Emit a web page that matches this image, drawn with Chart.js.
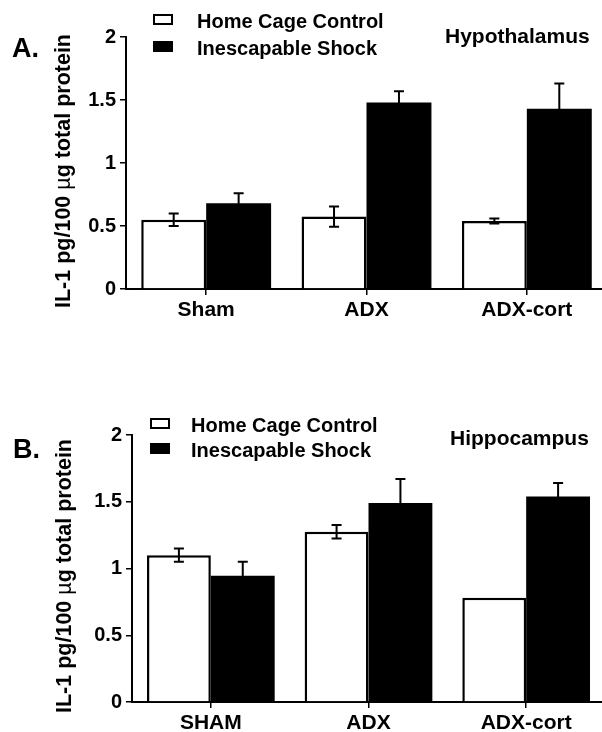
<!DOCTYPE html>
<html>
<head>
<meta charset="utf-8">
<script src="https://cdn.jsdelivr.net/npm/chart.js@4/dist/chart.umd.min.js"></script>
<style>
    html, body { margin: 0; padding: 0; background: #fff; overflow: hidden; width: 602px; height: 732px; }
    .panel { position: absolute; left: 0; }
    .panel canvas { display: block; }
    #panelA { top: 0; }
    #panelB { top: 380px; }
</style>
</head>
<body>
<div class="panel" id="panelA"><canvas id="chartA" width="607" height="330"></canvas></div>
<div class="panel" id="panelB"><canvas id="chartB" width="605" height="352"></canvas></div>
<script>
// Veriler
const groupsA = ['Sham', 'ADX', 'ADX-cort'];
const groupsB = ['SHAM', 'ADX', 'ADX-cort'];
const seriesNames = ['Home Cage Control', 'Inescapable Shock'];
const yTickLabels = ['0', '0.5', '1', '1.5', '2'];

// Hypothalamus
const hypoControl = [0.55, 0.575, 0.54];
const hypoControlSem = [0.05, 0.08, 0.02];
const hypoShock = [0.68, 1.48, 1.43];
const hypoShockSem = [0.08, 0.09, 0.2];

// Hippocampus
const hippoControl = [1.10, 1.275, 0.78];
const hippoControlSem = [0.05, 0.05, 0];
const hippoShock = [0.945, 1.49, 1.54];
const hippoShockSem = [0.105, 0.18, 0.1];

const FONT = '"Liberation Sans", Arial, Helvetica, sans-serif';

document.addEventListener('DOMContentLoaded', function() {
    Chart.defaults.font.family = FONT;
    Chart.defaults.color = '#000';

    createPanel('chartA', {
        labels: groupsA,
        control: hypoControl, controlErr: hypoControlSem,
        shock: hypoShock, shockErr: hypoShockSem,
        axisLeft: 126, plotTop: 37, xAxisHeight: 41,
        text: {
            letter: 'A.', letterX: 12, letterY: 57,
            region: 'Hypothalamus', regionX: 445, regionY: 43,
            legendX: 153, legendTextX: 197, legendBoxY: [14, 41], legendTextY: [28, 55],
            titleX: 70, titleY: 308
        }
    });

    createPanel('chartB', {
        labels: groupsB,
        control: hippoControl, controlErr: hippoControlSem,
        shock: hippoShock, shockErr: hippoShockSem,
        axisLeft: 132, plotTop: 55, xAxisHeight: 30,
        text: {
            letter: 'B.', letterX: 13, letterY: 78,
            region: 'Hippocampus', regionX: 450, regionY: 65,
            legendX: 150, legendTextX: 191, legendBoxY: [38, 63], legendTextY: [52, 77],
            titleX: 71, titleY: 333
        }
    });
});

// Hata çubukları
const errorBarPlugin = {
    id: 'errorBars',
    afterDatasetsDraw(chart) {
        const ctx = chart.ctx;
        const yScale = chart.scales.y;
        ctx.save();
        ctx.strokeStyle = '#000';
        ctx.lineWidth = 2;
        chart.data.datasets.forEach((ds, i) => {
            const meta = chart.getDatasetMeta(i);
            meta.data.forEach((bar, j) => {
                const err = ds.errors[j];
                if (!err) return;
                const top = yScale.getPixelForValue(ds.data[j] + err);
                const bottom = yScale.getPixelForValue(ds.data[j] - err);
                ctx.beginPath();
                ctx.moveTo(bar.x, top);
                ctx.lineTo(bar.x, bottom);
                ctx.moveTo(bar.x - 5, top);
                ctx.lineTo(bar.x + 5, top);
                ctx.moveTo(bar.x - 5, bottom);
                ctx.lineTo(bar.x + 5, bottom);
                ctx.stroke();
            });
        });
        ctx.restore();
    }
};

// Panel harfi, bölge adı, lejant ve y ekseni başlığı
const panelTextPlugin = {
    id: 'panelText',
    afterDraw(chart, args, opts) {
        const ctx = chart.ctx;
        ctx.save();
        ctx.fillStyle = '#000';
        ctx.textBaseline = 'alphabetic';
        ctx.textAlign = 'left';

        ctx.font = 'bold 27px ' + FONT;
        ctx.fillText(opts.letter, opts.letterX, opts.letterY);

        ctx.font = 'bold 21px ' + FONT;
        ctx.fillText(opts.region, opts.regionX, opts.regionY);

        chart.data.datasets.forEach((ds, i) => {
            const by = opts.legendBoxY[i];
            ctx.fillStyle = ds.backgroundColor;
            ctx.fillRect(opts.legendX, by, 20, 11);
            ctx.strokeStyle = '#000';
            ctx.lineWidth = 2;
            ctx.strokeRect(opts.legendX + 1, by + 1, 18, 9);
            ctx.fillStyle = '#000';
            ctx.font = 'bold 20px ' + FONT;
            ctx.fillText(ds.label, opts.legendTextX, opts.legendTextY[i]);
        });

        // y başlığı: µ işareti normal, geri kalanı kalın
        const parts = [
            ['IL-1 pg/100 ', 'bold 21.5px ' + FONT],
            ['\u00b5', '21.5px ' + FONT],
            ['g total protein', 'bold 21.5px ' + FONT]
        ];
        ctx.translate(opts.titleX, opts.titleY);
        ctx.rotate(-Math.PI / 2);
        let x = 0;
        parts.forEach(([txt, font]) => {
            ctx.font = font;
            ctx.fillText(txt, x, 0);
            x += ctx.measureText(txt).width;
        });
        ctx.restore();
    }
};

function createPanel(canvasId, cfg) {
    const ctx = document.getElementById(canvasId).getContext('2d');
    const axisGrid = {
        display: true,
        drawOnChartArea: false,
        drawTicks: true,
        tickLength: 6,
        offset: false,
        color: '#000',
        lineWidth: 1.5
    };
    const axisBorder = { display: true, color: '#000', width: 2 };

    new Chart(ctx, {
        type: 'bar',
        data: {
            labels: cfg.labels,
            datasets: [
                {
                    label: seriesNames[0],
                    data: cfg.control,
                    errors: cfg.controlErr,
                    backgroundColor: '#fff',
                    borderColor: '#000',
                    borderWidth: 2.5,
                    borderSkipped: 'bottom',
                    categoryPercentage: 0.81,
                    barPercentage: 1
                },
                {
                    label: seriesNames[1],
                    data: cfg.shock,
                    errors: cfg.shockErr,
                    backgroundColor: '#000',
                    borderColor: '#000',
                    borderWidth: 0,
                    categoryPercentage: 0.81,
                    barPercentage: 1
                }
            ]
        },
        options: {
            responsive: false,
            animation: false,
            devicePixelRatio: 1,
            layout: { padding: { top: cfg.plotTop, left: 0, right: 0, bottom: 0 } },
            plugins: {
                legend: { display: false },
                tooltip: { enabled: false },
                panelText: cfg.text
            },
            scales: {
                x: {
                    grid: axisGrid,
                    border: axisBorder,
                    ticks: {
                        color: '#000',
                        font: { size: 21, weight: 'bold' },
                        padding: 3,
                        maxRotation: 0,
                        autoSkip: false
                    },
                    afterFit(scale) { scale.height = cfg.xAxisHeight; }
                },
                y: {
                    min: 0,
                    max: 2,
                    grid: axisGrid,
                    border: axisBorder,
                    ticks: {
                        stepSize: 0.5,
                        color: '#000',
                        font: { size: 20, weight: 'bold' },
                        padding: 4,
                        callback: (value, index) => yTickLabels[index]
                    },
                    afterFit(scale) { scale.width = cfg.axisLeft; }
                }
            }
        },
        plugins: [errorBarPlugin, panelTextPlugin]
    });
}
</script>
</body>
</html>
